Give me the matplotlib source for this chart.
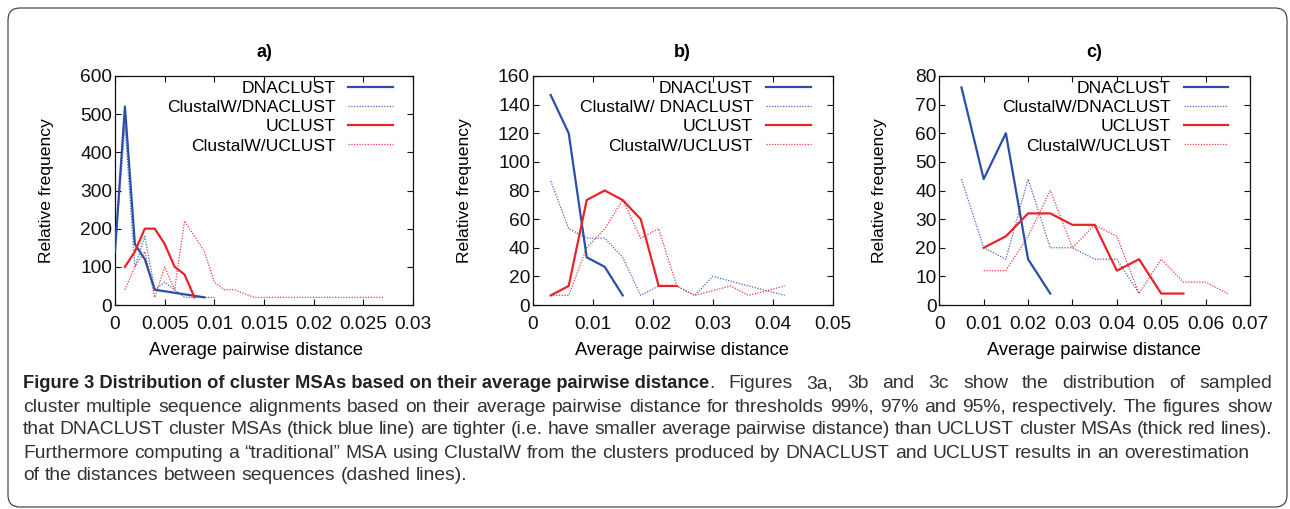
import matplotlib
matplotlib.use("Agg")
import matplotlib.pyplot as plt
from matplotlib.patches import FancyBboxPatch

plt.rcParams['font.family'] = ['Liberation Sans', 'DejaVu Sans']

# ---------------- data ----------------
# panel a (threshold 99%)
a_dna_x = [0.0, 0.001, 0.002, 0.003, 0.004, 0.009]
a_dna_y = [140, 520, 160, 120, 40, 20]
a_cwdna_x = [0.0, 0.001, 0.002, 0.003, 0.004, 0.005, 0.006, 0.007, 0.010]
a_cwdna_y = [140, 470, 100, 180, 40, 60, 40, 20, 20]
a_ucl_x = [0.001, 0.002, 0.003, 0.004, 0.005, 0.006, 0.007, 0.008]
a_ucl_y = [100, 140, 200, 200, 160, 100, 80, 20]
a_cwucl_x = [0.001, 0.002, 0.003, 0.004, 0.005, 0.006, 0.007, 0.008, 0.009,
             0.010, 0.011, 0.012, 0.014, 0.027]
a_cwucl_y = [40, 100, 140, 20, 100, 40, 220, 180, 140, 60, 40, 40, 20, 20]

# panel b (threshold 97%)
b_dna_x = [0.003, 0.006, 0.009, 0.012, 0.015]
b_dna_y = [146.7, 120, 33.3, 26.7, 6.7]
b_cwdna_x = [0.003, 0.006, 0.009, 0.012, 0.015, 0.018, 0.021, 0.024, 0.027,
             0.030, 0.033, 0.036, 0.039, 0.042]
b_cwdna_y = [86.7, 53.3, 46.7, 46.7, 33.3, 6.7, 13.3, 13.3, 6.7, 20, 16.7,
             13.3, 10, 6.7]
b_ucl_x = [0.003, 0.006, 0.009, 0.012, 0.015, 0.018, 0.021, 0.024]
b_ucl_y = [6.7, 13.3, 73.3, 80, 73.3, 60, 13.3, 13.3]
b_cwucl_x = [0.003, 0.006, 0.009, 0.012, 0.015, 0.018, 0.021, 0.024, 0.027,
             0.030, 0.033, 0.036, 0.039, 0.042]
b_cwucl_y = [6.7, 6.7, 40, 53.3, 73.3, 46.7, 53.3, 13.3, 6.7, 10, 13.3, 6.7,
             10, 13.3]

# panel c (threshold 95%)
c_dna_x = [0.005, 0.010, 0.015, 0.020, 0.025]
c_dna_y = [76, 44, 60, 16, 4]
c_cwdna_x = [0.005, 0.010, 0.015, 0.020, 0.025, 0.030, 0.035, 0.040, 0.045]
c_cwdna_y = [44, 20, 16, 44, 20, 20, 16, 16, 4]
c_ucl_x = [0.010, 0.015, 0.020, 0.025, 0.030, 0.035, 0.040, 0.045, 0.050, 0.055]
c_ucl_y = [20, 24, 32, 32, 28, 28, 12, 16, 4, 4]
c_cwucl_x = [0.010, 0.015, 0.020, 0.025, 0.030, 0.035, 0.040, 0.045, 0.050,
             0.055, 0.060, 0.065]
c_cwucl_y = [12, 12, 24, 40, 20, 28, 24, 4, 16, 8, 8, 4]

titles = ["a)", "b)", "c)"]
legend_labels = [
    ["DNACLUST", "ClustalW/DNACLUST", "UCLUST", "ClustalW/UCLUST"],
    ["DNACLUST", "ClustalW/ DNACLUST", "UCLUST", "ClustalW/UCLUST"],
    ["DNACLUST", "ClustalW/DNACLUST", "UCLUST", "ClustalW/UCLUST"],
]
x_ticks = [
    [0, 0.005, 0.01, 0.015, 0.02, 0.025, 0.03],
    [0, 0.01, 0.02, 0.03, 0.04, 0.05],
    [0, 0.01, 0.02, 0.03, 0.04, 0.05, 0.06, 0.07],
]
x_ticklabels = [
    ["0", "0.005", "0.01", "0.015", "0.02", "0.025", "0.03"],
    ["0", "0.01", "0.02", "0.03", "0.04", "0.05"],
    ["0", "0.01", "0.02", "0.03", "0.04", "0.05", "0.06", "0.07"],
]
y_ticks = [
    [0, 100, 200, 300, 400, 500, 600],
    [0, 20, 40, 60, 80, 100, 120, 140, 160],
    [0, 10, 20, 30, 40, 50, 60, 70, 80],
]
x_label = "Average pairwise distance"
y_label = "Relative frequency"

caption_bold = "Figure 3 Distribution of cluster MSAs based on their average pairwise distance"
caption_lines = [
    ". Figures 3a, 3b and 3c show the distribution of sampled",
    "cluster multiple sequence alignments based on their average pairwise distance for thresholds 99%, 97% and 95%, respectively. The figures show",
    "that DNACLUST cluster MSAs (thick blue line) are tighter (i.e. have smaller average pairwise distance) than UCLUST cluster MSAs (thick red lines).",
    "Furthermore computing a \u201ctraditional\u201d MSA using ClustalW from the clusters produced by DNACLUST and UCLUST results in an overestimation",
    "of the distances between sequences (dashed lines).",
]

panels = [
    (a_dna_x, a_dna_y, a_cwdna_x, a_cwdna_y, a_ucl_x, a_ucl_y, a_cwucl_x, a_cwucl_y),
    (b_dna_x, b_dna_y, b_cwdna_x, b_cwdna_y, b_ucl_x, b_ucl_y, b_cwucl_x, b_cwucl_y),
    (c_dna_x, c_dna_y, c_cwdna_x, c_cwdna_y, c_ucl_x, c_ucl_y, c_cwucl_x, c_cwucl_y),
]

# ---------------- layout ----------------
W, H = 1290, 509
fig = plt.figure(figsize=(W / 100, H / 100), dpi=100)

ax_px = [(115, 413), (532.7, 832.7), (939.3, 1250)]
top_px, bot_px = 76, 305
ylab_x = [-0.205, -0.203, -0.168]
xlab_x = [0.473, 0.497, 0.497]
leg_x = [0.933, 0.927, 0.930]

BLUE = "#2c4ea6"
BLUE_D = "#4a64be"
RED = "#e8232a"
RED_D = "#f03c44"

for i, (l, r) in enumerate(ax_px):
    ax = fig.add_axes([l / W, (H - bot_px) / H, (r - l) / W, (bot_px - top_px) / H])
    dx, dy, cdx, cdy, ux, uy, cux, cuy = panels[i]
    ax.plot(dx, dy, color=BLUE, lw=1.6, label=legend_labels[i][0], zorder=4)
    ax.plot(cdx, cdy, color=BLUE_D, lw=0.9, ls=(0, (1, 1.2)), label=legend_labels[i][1], zorder=3)
    ax.plot(ux, uy, color=RED, lw=1.6, label=legend_labels[i][2], zorder=4)
    ax.plot(cux, cuy, color=RED_D, lw=0.9, ls=(0, (1, 1.2)), label=legend_labels[i][3], zorder=3)

    ax.set_xlim(x_ticks[i][0], x_ticks[i][-1])
    ax.set_ylim(y_ticks[i][0], y_ticks[i][-1])
    ax.set_xticks(x_ticks[i])
    ax.set_xticklabels(x_ticklabels[i])
    ax.set_yticks(y_ticks[i])
    ax.tick_params(direction='in', top=True, right=True, length=4, width=0.8,
                   labelsize=13.8, colors='#111111')
    ax.tick_params(axis='x', pad=8)
    ax.tick_params(axis='y', pad=2)
    for s in ax.spines.values():
        s.set_linewidth(0.9)
        s.set_color('#111111')
    ax.set_title(titles[i], fontsize=13, fontweight='bold', pad=14)
    ax.set_xlabel(x_label, fontsize=13.2)
    ax.set_ylabel(y_label, fontsize=12.6)
    ax.xaxis.set_label_coords(xlab_x[i], -0.162)
    ax.yaxis.set_label_coords(ylab_x[i], 0.5)

    ax.legend(loc='upper right', bbox_to_anchor=(leg_x[i], 0.978),
              frameon=False, markerfirst=False, fontsize=12.6,
              handlelength=2.55, handletextpad=0.75, labelspacing=0.22,
              borderpad=0, borderaxespad=0)

# border
border = FancyBboxPatch((0.08, 0.02), 12.79, 4.99,
                        boxstyle="round,pad=0,rounding_size=0.12",
                        transform=fig.dpi_scale_trans, fill=False,
                        edgecolor='#333333', linewidth=0.8)
fig.add_artist(border)

# caption
cap_font = ['Liberation Sans', 'DejaVu Sans']
cap_size = 13.9
bold_size = 13.2
x_left = 23
x_right = 1272
line_y = [383, 406, 429, 452, 475]
base_off = 5.5
fig.canvas.draw()
renderer = fig.canvas.get_renderer()


def text_width(s, size, weight='normal'):
    t = fig.text(0, 0, s, fontsize=size, fontweight=weight, family=cap_font)
    w = t.get_window_extent(renderer=renderer).width
    t.remove()
    return w


space_w = text_width("a a", cap_size) - text_width("aa", cap_size)


def place_words(words, y_px, start_px, justify):
    yb = 1 - (y_px + base_off) / H
    arts, widths = [], []
    for w in words:
        t = fig.text(0, yb, w, fontsize=cap_size, family=cap_font,
                     va='baseline', ha='left', color='#333333')
        arts.append(t)
        widths.append(t.get_window_extent(renderer=renderer).width)
    gaps = [0.0 if words[k + 1].startswith(".") else 1.0 for k in range(len(words) - 1)]
    if justify and sum(gaps) > 0:
        unit = ((x_right - start_px) - sum(widths)) / sum(gaps)
    else:
        unit = space_w
    x = start_px
    for k, t in enumerate(arts):
        t.set_x(x / W)
        x += widths[k]
        if k < len(gaps):
            x += gaps[k] * unit


tb = fig.text(x_left / W, 1 - (line_y[0] + base_off) / H, caption_bold,
              fontsize=bold_size, fontweight='bold', family=cap_font,
              va='baseline', ha='left', color='#222222')
bx1 = tb.get_window_extent(renderer=renderer).x1
place_words(caption_lines[0].split(" "), line_y[0], bx1, True)
place_words(caption_lines[1].split(" "), line_y[1], x_left, True)
place_words(caption_lines[2].split(" "), line_y[2], x_left, True)
place_words(caption_lines[3].split(" "), line_y[3], x_left, False)
place_words(caption_lines[4].split(" "), line_y[4], x_left, False)

fig.savefig("out.png", dpi=100)
